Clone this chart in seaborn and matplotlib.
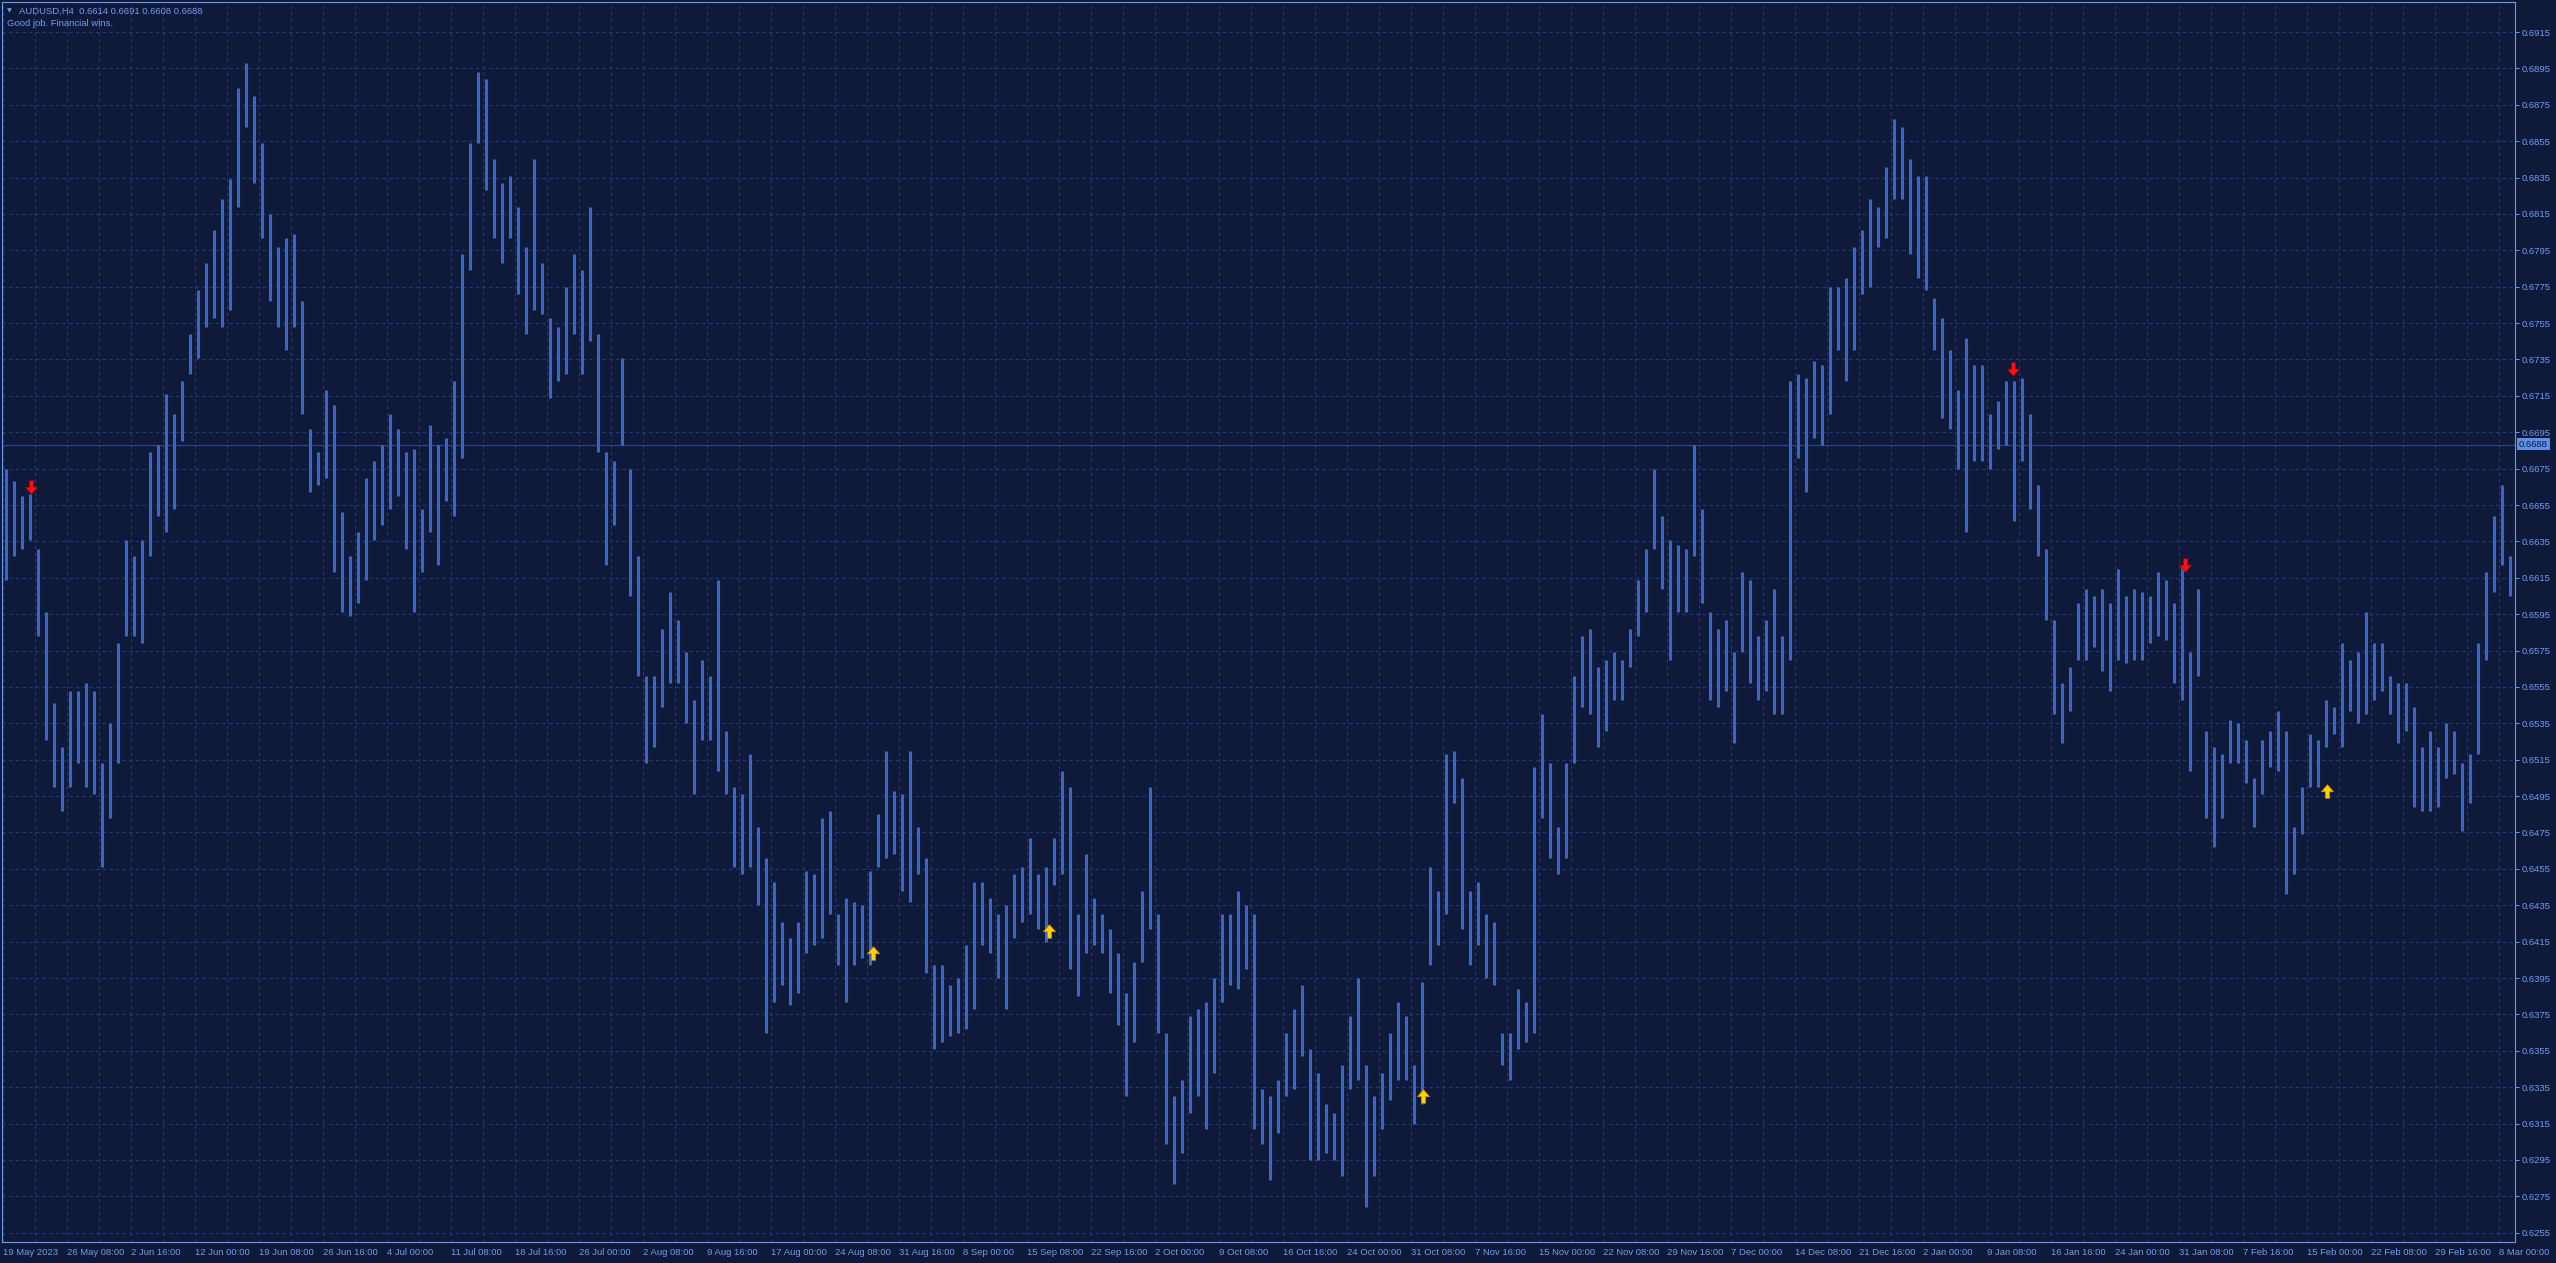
import numpy as np
import matplotlib
matplotlib.use("Agg")
import matplotlib.pyplot as plt
from matplotlib.path import Path
from matplotlib.ticker import FixedLocator, NullFormatter, FormatStrFormatter
import seaborn as sns

# AUDUSD H4, 19 May 2023 .. 8 Mar 2024
# one entry = high / low of a block of 4 consecutive H4 bars
BARS_PER_BLOCK = 4
highs = [
    0.6675, 0.6668, 0.6660, 0.6661, 0.6631, 0.6596, 0.6546, 0.6522, 0.6553, 0.6553,
    0.6557, 0.6553, 0.6513, 0.6535, 0.6579, 0.6636, 0.6627, 0.6636, 0.6684, 0.6688,
    0.6716, 0.6705, 0.6723, 0.6749, 0.6773, 0.6788, 0.6806, 0.6823, 0.6834, 0.6884,
    0.6898, 0.6880, 0.6854, 0.6815, 0.6797, 0.6802, 0.6804, 0.6767, 0.6697, 0.6684,
    0.6718, 0.6710, 0.6651, 0.6627, 0.6640, 0.6670, 0.6679, 0.6688, 0.6705, 0.6697,
    0.6684, 0.6686, 0.6653, 0.6699, 0.6688, 0.6692, 0.6723, 0.6793, 0.6854, 0.6893,
    0.6889, 0.6845, 0.6832, 0.6836, 0.6819, 0.6797, 0.6845, 0.6788, 0.6758, 0.6753,
    0.6775, 0.6793, 0.6784, 0.6819, 0.6749, 0.6684, 0.6679, 0.6736, 0.6675, 0.6627,
    0.6561, 0.6561, 0.6587, 0.6607, 0.6592, 0.6574, 0.6548, 0.6570, 0.6561, 0.6614,
    0.6531, 0.6500, 0.6496, 0.6518, 0.6478, 0.6461, 0.6448, 0.6426, 0.6417, 0.6426,
    0.6454, 0.6452, 0.6483, 0.6487, 0.6430, 0.6439, 0.6437, 0.6435, 0.6454, 0.6485,
    0.6520, 0.6498, 0.6496, 0.6520, 0.6478, 0.6461, 0.6402, 0.6402, 0.6391, 0.6395,
    0.6413, 0.6448, 0.6448, 0.6439, 0.6430, 0.6435, 0.6452, 0.6456, 0.6472, 0.6452,
    0.6456, 0.6472, 0.6509, 0.6500, 0.6430, 0.6463, 0.6439, 0.6430, 0.6422, 0.6409,
    0.6387, 0.6404, 0.6443, 0.6500, 0.6430, 0.6365, 0.6330, 0.6339, 0.6374, 0.6378,
    0.6382, 0.6395, 0.6430, 0.6430, 0.6443, 0.6435, 0.6430, 0.6334, 0.6330, 0.6339,
    0.6365, 0.6378, 0.6391, 0.6356, 0.6343, 0.6326, 0.6321, 0.6347, 0.6374, 0.6395,
    0.6347, 0.6330, 0.6343, 0.6365, 0.6382, 0.6374, 0.6347, 0.6393, 0.6456, 0.6443,
    0.6518, 0.6520, 0.6505, 0.6443, 0.6448, 0.6430, 0.6426, 0.6365, 0.6365, 0.6389,
    0.6382, 0.6511, 0.6540, 0.6513, 0.6478, 0.6513, 0.6561, 0.6583, 0.6587, 0.6566,
    0.6570, 0.6574, 0.6570, 0.6587, 0.6614, 0.6631, 0.6675, 0.6649, 0.6636, 0.6633,
    0.6631, 0.6688, 0.6653, 0.6596, 0.6587, 0.6592, 0.6574, 0.6618, 0.6614, 0.6583,
    0.6592, 0.6609, 0.6583, 0.6723, 0.6727, 0.6725, 0.6734, 0.6732, 0.6775, 0.6775,
    0.6780, 0.6797, 0.6806, 0.6823, 0.6819, 0.6841, 0.6867, 0.6863, 0.6845, 0.6836,
    0.6836, 0.6769, 0.6758, 0.6740, 0.6718, 0.6747, 0.6732, 0.6732, 0.6705, 0.6712,
    0.6723, 0.6723, 0.6725, 0.6705, 0.6666, 0.6631, 0.6592, 0.6557, 0.6566, 0.6601,
    0.6609, 0.6605, 0.6609, 0.6601, 0.6620, 0.6605, 0.6609, 0.6607, 0.6605, 0.6618,
    0.6614, 0.6601, 0.6622, 0.6574, 0.6609, 0.6531, 0.6522, 0.6518, 0.6537, 0.6535,
    0.6526, 0.6505, 0.6526, 0.6531, 0.6542, 0.6531, 0.6478, 0.6500, 0.6529, 0.6526,
    0.6548, 0.6544, 0.6579, 0.6570, 0.6574, 0.6596, 0.6579, 0.6579, 0.6561, 0.6557,
    0.6557, 0.6544, 0.6522, 0.6531, 0.6522, 0.6535, 0.6531, 0.6513, 0.6518, 0.6579,
    0.6618, 0.6649, 0.6666, 0.6627,
]
lows = [
    0.6614, 0.6627, 0.6631, 0.6636, 0.6583, 0.6526, 0.6500, 0.6487, 0.6500, 0.6513,
    0.6500, 0.6496, 0.6456, 0.6483, 0.6513, 0.6583, 0.6583, 0.6579, 0.6627, 0.6649,
    0.6640, 0.6653, 0.6690, 0.6727, 0.6736, 0.6753, 0.6758, 0.6753, 0.6762, 0.6819,
    0.6863, 0.6832, 0.6802, 0.6767, 0.6753, 0.6740, 0.6753, 0.6705, 0.6662, 0.6666,
    0.6670, 0.6618, 0.6596, 0.6594, 0.6601, 0.6614, 0.6636, 0.6644, 0.6653, 0.6660,
    0.6631, 0.6596, 0.6618, 0.6640, 0.6622, 0.6657, 0.6649, 0.6681, 0.6784, 0.6854,
    0.6828, 0.6802, 0.6788, 0.6802, 0.6771, 0.6749, 0.6762, 0.6760, 0.6714, 0.6723,
    0.6727, 0.6749, 0.6727, 0.6745, 0.6684, 0.6622, 0.6644, 0.6688, 0.6605, 0.6561,
    0.6513, 0.6522, 0.6544, 0.6557, 0.6557, 0.6535, 0.6496, 0.6526, 0.6526, 0.6509,
    0.6496, 0.6456, 0.6452, 0.6456, 0.6435, 0.6365, 0.6382, 0.6391, 0.6380, 0.6387,
    0.6409, 0.6413, 0.6417, 0.6430, 0.6402, 0.6382, 0.6402, 0.6406, 0.6402, 0.6456,
    0.6461, 0.6463, 0.6443, 0.6437, 0.6452, 0.6398, 0.6356, 0.6360, 0.6363, 0.6365,
    0.6367, 0.6378, 0.6413, 0.6409, 0.6395, 0.6378, 0.6417, 0.6426, 0.6430, 0.6422,
    0.6415, 0.6446, 0.6452, 0.6400, 0.6385, 0.6409, 0.6413, 0.6409, 0.6387, 0.6369,
    0.6330, 0.6360, 0.6404, 0.6422, 0.6365, 0.6304, 0.6282, 0.6299, 0.6321, 0.6330,
    0.6312, 0.6343, 0.6382, 0.6391, 0.6389, 0.6400, 0.6312, 0.6304, 0.6284, 0.6310,
    0.6330, 0.6334, 0.6352, 0.6295, 0.6295, 0.6299, 0.6295, 0.6286, 0.6334, 0.6339,
    0.6269, 0.6286, 0.6312, 0.6328, 0.6339, 0.6339, 0.6315, 0.6326, 0.6402, 0.6413,
    0.6430, 0.6491, 0.6422, 0.6402, 0.6413, 0.6395, 0.6391, 0.6347, 0.6339, 0.6356,
    0.6360, 0.6365, 0.6483, 0.6461, 0.6452, 0.6461, 0.6513, 0.6544, 0.6540, 0.6522,
    0.6531, 0.6548, 0.6548, 0.6566, 0.6583, 0.6596, 0.6631, 0.6609, 0.6570, 0.6596,
    0.6596, 0.6627, 0.6601, 0.6548, 0.6544, 0.6553, 0.6524, 0.6574, 0.6557, 0.6548,
    0.6553, 0.6540, 0.6540, 0.6570, 0.6681, 0.6662, 0.6692, 0.6688, 0.6705, 0.6740,
    0.6723, 0.6740, 0.6771, 0.6775, 0.6797, 0.6802, 0.6823, 0.6823, 0.6793, 0.6780,
    0.6773, 0.6740, 0.6703, 0.6697, 0.6675, 0.6640, 0.6679, 0.6679, 0.6675, 0.6686,
    0.6688, 0.6646, 0.6679, 0.6653, 0.6627, 0.6592, 0.6540, 0.6524, 0.6542, 0.6570,
    0.6570, 0.6577, 0.6564, 0.6553, 0.6570, 0.6568, 0.6570, 0.6570, 0.6579, 0.6583,
    0.6581, 0.6557, 0.6548, 0.6509, 0.6561, 0.6483, 0.6467, 0.6483, 0.6513, 0.6513,
    0.6502, 0.6478, 0.6496, 0.6511, 0.6509, 0.6441, 0.6452, 0.6474, 0.6500, 0.6500,
    0.6522, 0.6529, 0.6522, 0.6542, 0.6535, 0.6540, 0.6548, 0.6553, 0.6540, 0.6524,
    0.6531, 0.6489, 0.6487, 0.6487, 0.6489, 0.6505, 0.6507, 0.6476, 0.6491, 0.6518,
    0.6570, 0.6607, 0.6622, 0.6605,
]

# time axis labels, one every 32 H4 bars
LABEL_STEP = 32
date_labels = [
    "19 May 2023", "26 May 08:00", "2 Jun 16:00", "12 Jun 00:00", "19 Jun 08:00",
    "26 Jun 16:00", "4 Jul 00:00", "11 Jul 08:00", "18 Jul 16:00", "26 Jul 00:00",
    "2 Aug 08:00", "9 Aug 16:00", "17 Aug 00:00", "24 Aug 08:00", "31 Aug 16:00",
    "8 Sep 00:00", "15 Sep 08:00", "22 Sep 16:00", "2 Oct 00:00", "9 Oct 08:00",
    "16 Oct 16:00", "24 Oct 00:00", "31 Oct 08:00", "7 Nov 16:00", "15 Nov 00:00",
    "22 Nov 08:00", "29 Nov 16:00", "7 Dec 00:00", "14 Dec 08:00", "21 Dec 16:00",
    "2 Jan 00:00", "9 Jan 08:00", "16 Jan 16:00", "24 Jan 00:00", "31 Jan 08:00",
    "7 Feb 16:00", "15 Feb 00:00", "22 Feb 08:00", "29 Feb 16:00", "8 Mar 00:00",
]

# indicator signals (bar index, price)
sell_bars = [14, 1005, 1091]
sell_prices = [0.6665, 0.6730, 0.6622]
buy_bars = [435, 523, 710, 1162]
buy_prices = [0.6409, 0.6421, 0.6330, 0.6498]

last_price = 0.6688
header = "AUDUSD,H4  0.6614 0.6691 0.6608 0.6688"
comment = "Good job. Financial wins."
price_ticks = [round(0.6255 + 0.002 * k, 4) for k in range(34)]

# colours
BG = "#0f1a3b"
BAR = "#3c65c6"
GRID = "#1f3a7e"
FRAME = "#6a9af0"
TEXT = "#6f9cf0"
PRICE_LINE = "#27478f"

W, H = 2556, 1263

sns.set_theme(style="dark")
plt.rcParams["font.family"] = ["Liberation Sans", "DejaVu Sans"]

fig = plt.figure(figsize=(W / 100, H / 100), dpi=100)
fig.patch.set_facecolor(BG)
ax = fig.add_axes([2 / W, 1 - 1242 / H, (2515 - 2) / W, (1242 - 2) / H])
ax.set_facecolor(BG)

# price bars
x = np.arange(len(highs)) * BARS_PER_BLOCK + (BARS_PER_BLOCK - 1) / 2
ax.vlines(x, lows, highs, colors=BAR, linewidth=2.2, zorder=3)

ax.axhline(last_price, color=PRICE_LINE, linewidth=0.9, zorder=2)


def arrow_marker(direction):
    verts = [(-0.16, 0.5), (0.16, 0.5), (0.16, 0.02), (0.46, 0.02),
             (0.0, -0.5), (-0.46, 0.02), (-0.16, 0.02), (-0.16, 0.5)]
    if direction == "up":
        verts = [(vx, -vy) for vx, vy in verts]
    return Path(verts, closed=True)


sns.scatterplot(x=sell_bars, y=sell_prices, marker=arrow_marker("down"), s=95,
                color="#ff1010", edgecolor="#a00000", linewidth=0.5,
                ax=ax, zorder=5, legend=False)
sns.scatterplot(x=buy_bars, y=buy_prices, marker=arrow_marker("up"), s=95,
                color="#ffd200", edgecolor="#d08000", linewidth=0.5,
                ax=ax, zorder=5, legend=False)

# axes / grid
ax.set_xlim(-0.5, 1256)
ax.set_ylim(0.62499, 0.69315)
ax.set_xlabel("")
ax.set_ylabel("")

major_x = [LABEL_STEP * i for i in range(len(date_labels))]
minor_x = [m + LABEL_STEP // 2 for m in major_x]
ax.xaxis.set_major_locator(FixedLocator(major_x))
ax.xaxis.set_minor_locator(FixedLocator(minor_x))
ax.set_xticklabels(date_labels)
ax.xaxis.set_minor_formatter(NullFormatter())

ax.yaxis.tick_right()
ax.yaxis.set_major_locator(FixedLocator(price_ticks))
ax.yaxis.set_major_formatter(FormatStrFormatter("%.4f"))

ax.grid(True, which="both", axis="x", color=GRID, linestyle=(0, (3, 3)), linewidth=0.8)
ax.grid(True, which="major", axis="y", color=GRID, linestyle=(0, (3, 3)), linewidth=0.8)
ax.set_axisbelow(True)

ax.tick_params(axis="x", which="major", direction="out", length=3, width=0.7,
               color=FRAME, labelcolor=TEXT, labelsize=6.8, pad=1.5)
ax.tick_params(axis="x", which="minor", length=0)
ax.tick_params(axis="y", which="major", direction="out", length=3, width=0.7,
               color=FRAME, labelcolor=TEXT, labelsize=6.8, pad=1.5,
               left=False, right=True)
for lab in ax.get_xticklabels():
    lab.set_horizontalalignment("left")

for side in ["left", "right", "top", "bottom"]:
    ax.spines[side].set_visible(True)
    ax.spines[side].set_color(FRAME)
    ax.spines[side].set_linewidth(0.8)

# header and comment
fig.text(7 / W, 1 - 11 / H, "\u25bc", fontsize=4.5, color=TEXT, va="center",
         family=["DejaVu Sans"])
fig.text(19 / W, 1 - 11 / H, header, fontsize=6.8, color=TEXT, va="center")
fig.text(7 / W, 1 - 24 / H, comment, fontsize=6.8, color=TEXT, va="center")

# current price tag
fig.text(2519 / W, 1 - 444 / H, f"{last_price:.4f}", fontsize=6.8, color=BG,
         va="center", ha="left",
         bbox=dict(boxstyle="square,pad=0.2", facecolor="#5f8fe8", edgecolor="none"))

plt.savefig("out.png", dpi=100, facecolor=BG)
plt.close()
